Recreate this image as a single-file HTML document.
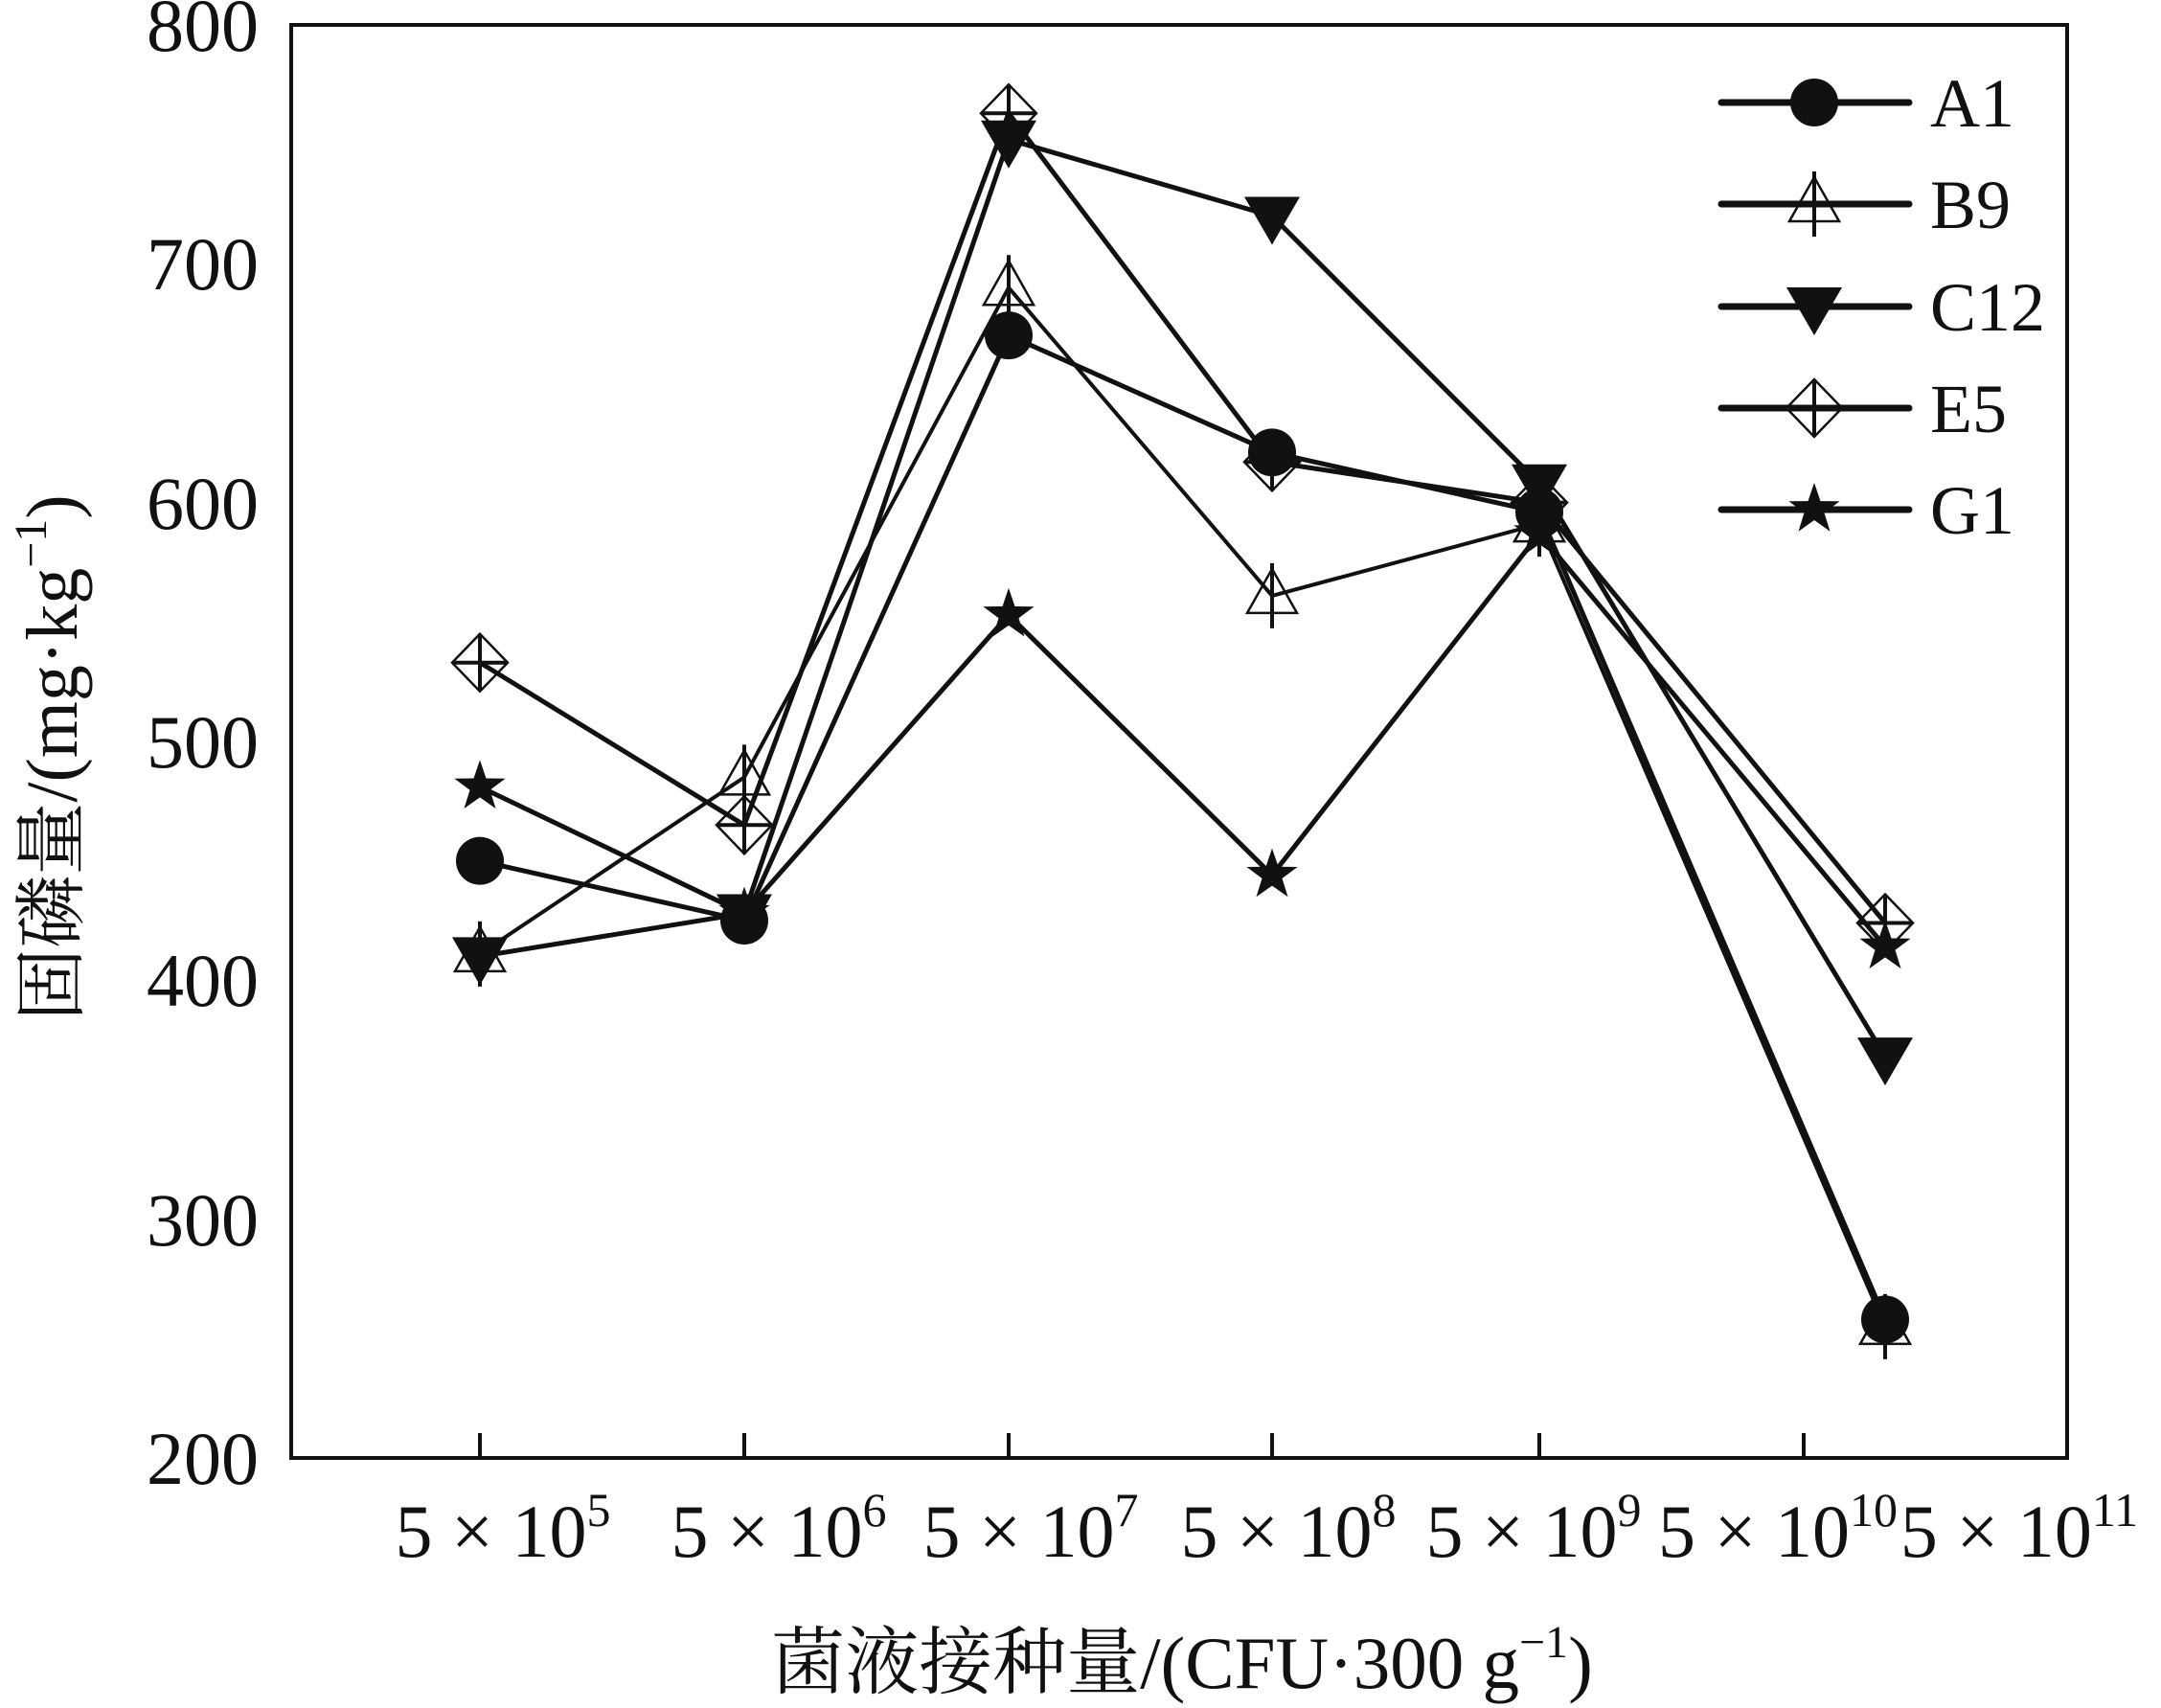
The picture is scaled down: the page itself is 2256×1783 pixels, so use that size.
<!DOCTYPE html>
<html><head><meta charset="utf-8">
<style>html,body{margin:0;padding:0;background:#fff}svg{display:block}</style>
</head><body>
<svg id="s" width="2256" height="1783" viewBox="0 0 2256 1783" xmlns="http://www.w3.org/2000/svg" font-family="'Liberation Serif','Noto Serif CJK SC',serif" fill="#111">
<rect x="304" y="26" width="1854" height="1496" fill="none" stroke="#111" stroke-width="4"/>
<g font-size="78" text-anchor="end" textLength="115">
<text x="270" y="1549">200</text><text x="270" y="1300">300</text><text x="270" y="1050">400</text>
<text x="270" y="801">500</text><text x="270" y="552">600</text><text x="270" y="302">700</text><text x="270" y="53">800</text>
</g>
<g font-size="78" text-anchor="middle">
<text x="525" y="1625">5 × 10<tspan font-size="50" dy="-32">5</tspan></text>
<text x="813" y="1625">5 × 10<tspan font-size="50" dy="-32">6</tspan></text>
<text x="1076" y="1625">5 × 10<tspan font-size="50" dy="-32">7</tspan></text>
<text x="1345" y="1625">5 × 10<tspan font-size="50" dy="-32">8</tspan></text>
<text x="1601" y="1625">5 × 10<tspan font-size="50" dy="-32">9</tspan></text>
<text x="1856" y="1625">5 × 10<tspan font-size="50" dy="-32">10</tspan></text>
<text x="2108" y="1625">5 × 10<tspan font-size="50" dy="-32">11</tspan></text>
</g>
<text x="1234" y="1762" font-size="77" text-anchor="middle">菌液接种量/(CFU·300 g<tspan font-size="48" dy="-32">−1</tspan><tspan dy="32">)</tspan></text>
<text transform="translate(80,791) rotate(-90)" font-size="76" text-anchor="middle">固磷量/(mg·kg<tspan font-size="48" dy="-32">−1</tspan><tspan dy="32">)</tspan></text>
<g id="plot"></g>
<g font-size="72">
<text x="2015" y="132">A1</text><text x="2015" y="238">B9</text><text x="2015" y="345">C12</text>
<text x="2015" y="451">E5</text><text x="2015" y="557">G1</text>
</g>
</svg>
<script>
var NS="http://www.w3.org/2000/svg",g=document.getElementById('plot');
function el(t,a){var e=document.createElementNS(NS,t);for(var k in a)e.setAttribute(k,a[k]);g.appendChild(e);return e;}
var xs=[501,777,1053,1328,1607,1968];
function Y(v){return 1522-(v-200)*249.33/100;}
var data={
A1:[450,425,670,621,596,258],
B9:[411,485,690,561,591,255],
C12:[410,428,752,720,608,368],
E5:[533,465,763,617,600,424],
G1:[481,428,553,444,587,414]};
for(var i=0;i<6;i++)el('line',{x1:xs[i]+(i==5?-85:0),y1:1522,x2:xs[i]+(i==5?-85:0),y2:1496,stroke:'#111','stroke-width':4});
function marker(k,x,y){
 if(k=='A1')el('circle',{cx:x,cy:y,r:25,fill:'#111'});
 else if(k=='B9'){el('polygon',{points:(x)+','+(y-28)+' '+(x+26)+','+(y+18)+' '+(x-26)+','+(y+18),fill:'none',stroke:'#111','stroke-width':2.5});
  el('line',{x1:x,y1:y-34,x2:x,y2:y+34,stroke:'#111','stroke-width':4});}
 else if(k=='C12')el('polygon',{points:(x-29)+','+(y-20)+' '+(x+29)+','+(y-20)+' '+x+','+(y+30),fill:'#111'});
 else if(k=='E5'){el('polygon',{points:x+','+(y-30)+' '+(x+29)+','+y+' '+x+','+(y+30)+' '+(x-29)+','+y,fill:'none',stroke:'#111','stroke-width':2.5});
  el('line',{x1:x,y1:y-30,x2:x,y2:y+30,stroke:'#111','stroke-width':4});el('line',{x1:x-29,y1:y,x2:x+29,y2:y,stroke:'#111','stroke-width':4});}
 else {var p=[];for(var j=0;j<10;j++){var r=j%2?11:28,a=-Math.PI/2+j*Math.PI/5;p.push((x+r*Math.cos(a)).toFixed(1)+','+(y+r*Math.sin(a)).toFixed(1));}
  el('polygon',{points:p.join(' '),fill:'#111'});}
}
var keys=['A1','B9','C12','E5','G1'];
keys.forEach(function(k){var d=data[k],pts=d.map(function(v,i){return xs[i]+','+Y(v).toFixed(1);}).join(' ');
 el('polyline',{points:pts,fill:'none',stroke:'#111','stroke-width':k=='B9'?4:5,'stroke-linejoin':'round'});});
keys.forEach(function(k){data[k].forEach(function(v,i){marker(k,xs[i],Y(v));});});
var ly=[107,213,320,426,532];
keys.forEach(function(k,i){el('line',{x1:1797,y1:ly[i],x2:1993,y2:ly[i],stroke:'#111','stroke-width':7,'stroke-linecap':'round'});marker(k,1894,ly[i]);});
</script>
</body></html>
